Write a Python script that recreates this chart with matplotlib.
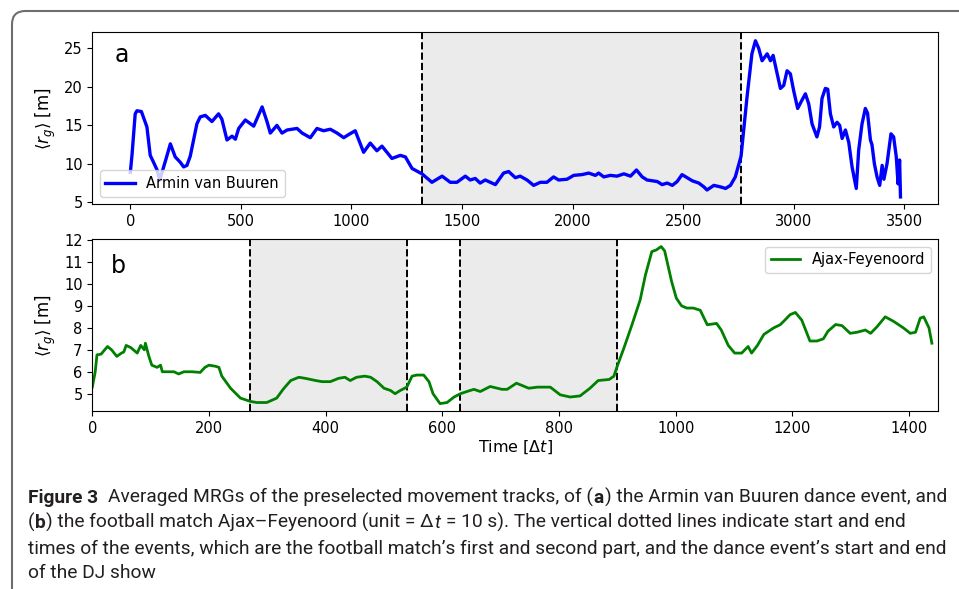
import matplotlib
matplotlib.use('Agg')
import matplotlib.pyplot as plt
from matplotlib import font_manager
from matplotlib.patches import FancyBboxPatch

plt.rcParams['font.family'] = 'DejaVu Sans'
plt.rcParams['mathtext.fontset'] = 'dejavusans'

# panel a: Armin van Buuren (time in units of dt, mean radius of gyration in m)
dance_t = [0, 8, 22, 30, 50, 75, 90, 105, 121, 133, 160, 181, 203, 226, 241, 256, 271, 301, 316, 339,
           369, 399, 414, 437, 460, 475, 490, 520, 558, 596, 618, 633, 663, 686, 709, 754, 777, 814, 844,
           874, 904, 935, 965, 987, 1017, 1055, 1085, 1115, 1138, 1183, 1221, 1244, 1274, 1319, 1364,
           1410, 1447, 1477, 1515, 1537, 1560, 1582, 1605, 1651, 1688, 1711, 1741, 1763, 1794, 1824,
           1854, 1884, 1914, 1937, 1975, 2005, 2043, 2073, 2103, 2118, 2141, 2171, 2201, 2232, 2262,
           2289, 2315, 2337, 2383, 2405, 2428, 2451, 2473, 2495, 2518, 2541, 2571, 2594, 2608, 2639,
           2669, 2692, 2714, 2736, 2762, 2789, 2811, 2827, 2842, 2857, 2880, 2895, 2907, 2917, 2940,
           2955, 2970, 2985, 3000, 3018, 3036, 3053, 3068, 3083, 3105, 3117, 3128, 3143, 3154, 3166,
           3181, 3196, 3208, 3219, 3234, 3249, 3264, 3283, 3294, 3309, 3324, 3334, 3347, 3354, 3365,
           3377, 3389, 3400, 3408, 3422, 3440, 3452, 3464, 3472, 3479, 3483]
dance_rg = [8.9, 11.3, 16.5, 16.9, 16.8, 14.8, 11.1, 10.2, 9.2, 7.9, 10.5, 12.6, 10.9, 10.2, 9.6, 9.8,
            11.0, 15.2, 16.1, 16.3, 15.5, 16.5, 15.8, 13.1, 13.6, 13.2, 14.6, 15.7, 14.9, 17.4, 15.5,
            14.0, 15.0, 14.0, 14.4, 14.6, 14.0, 13.4, 14.6, 14.3, 14.5, 14.0, 13.4, 13.8, 14.3, 11.5,
            12.7, 11.7, 12.3, 10.7, 11.1, 10.9, 9.4, 8.7, 7.6, 8.4, 7.6, 7.6, 8.4, 7.9, 8.1, 7.5, 7.9,
            7.3, 8.8, 9.0, 8.2, 8.4, 7.9, 7.2, 7.6, 7.6, 8.3, 7.9, 8.0, 8.5, 8.6, 8.8, 8.5, 8.8, 8.3,
            8.5, 8.4, 8.7, 8.4, 9.2, 8.3, 7.9, 7.7, 7.3, 7.5, 7.2, 7.7, 8.6, 8.2, 7.8, 7.5, 7.0, 6.6,
            7.2, 7.0, 6.8, 7.2, 8.3, 11.0, 18.7, 24.3, 26.0, 25.0, 23.4, 24.3, 23.4, 24.1, 22.8, 19.8,
            20.2, 22.1, 21.7, 19.5, 17.2, 18.2, 19.1, 17.8, 15.2, 13.5, 14.8, 18.5, 19.8, 19.7, 16.5,
            14.8, 15.4, 15.0, 13.3, 14.4, 12.8, 9.6, 6.8, 11.8, 15.2, 17.2, 16.6, 13.1, 12.5, 10.0,
            8.3, 7.2, 9.8, 8.0, 10.0, 13.9, 13.5, 10.9, 7.4, 10.5, 5.7]
dance_marks = [1320, 2760]

# panel b: Ajax-Feyenoord
match_t = [0, 5, 8, 15, 26, 33, 42, 50, 54, 58, 66, 77, 83, 89, 91, 97, 102, 111, 117, 120, 129, 140,
           148, 157, 171, 185, 193, 200, 211, 217, 222, 237, 254, 271, 282, 299, 316, 327, 340, 354,
           365, 383, 394, 408, 422, 433, 442, 453, 467, 477, 488, 500, 511, 519, 528, 539, 548, 556,
           568, 577, 584, 596, 608, 620, 631, 642, 654, 665, 682, 702, 711, 727, 748, 763, 785, 802,
           819, 836, 853, 867, 886, 894, 899, 911, 925, 939, 948, 959, 967, 975, 981, 993, 1001, 1010,
           1019, 1030, 1042, 1054, 1070, 1078, 1090, 1101, 1113, 1124, 1130, 1140, 1151, 1168, 1179,
           1187, 1196, 1205, 1216, 1230, 1242, 1253, 1261, 1274, 1285, 1299, 1311, 1325, 1334, 1345,
           1359, 1373, 1390, 1402, 1411, 1419, 1425, 1434, 1439]
match_rg = [5.3, 6.0, 6.77, 6.8, 7.15, 7.0, 6.7, 6.85, 6.9, 7.2, 7.1, 6.85, 7.2, 7.0, 7.3, 6.7, 6.3, 6.2,
            6.3, 6.0, 6.0, 6.0, 5.9, 6.0, 6.0, 5.97, 6.2, 6.3, 6.25, 6.2, 5.8, 5.25, 4.8, 4.65, 4.6,
            4.6, 4.8, 5.2, 5.6, 5.75, 5.7, 5.6, 5.55, 5.55, 5.7, 5.75, 5.6, 5.75, 5.8, 5.75, 5.55,
            5.25, 5.15, 5.0, 5.15, 5.3, 5.8, 5.85, 5.85, 5.55, 5.0, 4.55, 4.6, 4.85, 5.0, 5.1, 5.2,
            5.1, 5.33, 5.2, 5.2, 5.48, 5.25, 5.3, 5.3, 4.95, 4.85, 4.9, 5.25, 5.6, 5.65, 5.8, 6.2,
            7.07, 8.14, 9.27, 10.4, 11.47, 11.55, 11.7, 11.5, 10.1, 9.35, 9.0, 8.9, 8.9, 8.8, 8.14,
            8.2, 7.9, 7.2, 6.85, 6.85, 7.15, 6.85, 7.2, 7.7, 8.0, 8.14, 8.35, 8.6, 8.7, 8.35, 7.4, 7.4,
            7.5, 7.85, 8.15, 8.1, 7.75, 7.8, 7.9, 7.75, 8.05, 8.5, 8.3, 8.0, 7.75, 7.8, 8.44, 8.5,
            8.0, 7.3]
match_marks = [270, 540, 630, 900]

W, H = 959, 589
fig = plt.figure(figsize=(W / 100, H / 100), dpi=100)


def rect(l, t, r, b):
    return [l / W, 1 - b / H, (r - l) / W, (b - t) / H]


# rounded page frame
frame = FancyBboxPatch((12 / W, -0.1), 1.2, 1.1 - 11 / H, boxstyle='round,pad=0,rounding_size=0.014',
                       transform=fig.transFigure, fill=False, edgecolor='#6e6e6e', lw=1.5,
                       mutation_aspect=W / H)
fig.patches.append(frame)

ax1 = fig.add_axes(rect(92.3, 32.3, 938.3, 204.3))
ax2 = fig.add_axes(rect(92.3, 239.3, 938.3, 411.3))

ax1.axvspan(dance_marks[0], dance_marks[1], color='#ebebeb', zorder=0)
for m in dance_marks:
    ax1.axvline(m, color='k', ls='--', lw=1.4, zorder=1)
ax1.plot(dance_t, dance_rg, color='blue', lw=2.4, label='Armin van Buuren', zorder=2)
ax1.set_xlim(-172, 3654)
ax1.set_ylim(4.74, 27.1)
ax1.set_yticks([5, 10, 15, 20, 25])
ax1.set_xticks([0, 500, 1000, 1500, 2000, 2500, 3000, 3500])
ax1.text(0.026, 0.87, 'a', transform=ax1.transAxes, fontsize=17, va='center')
ax1.legend(loc='lower left', fontsize=10.5)

ax2.axvspan(match_marks[0], match_marks[1], color='#ebebeb', zorder=0)
ax2.axvspan(match_marks[2], match_marks[3], color='#ebebeb', zorder=0)
for m in match_marks:
    ax2.axvline(m, color='k', ls='--', lw=1.4, zorder=1)
ax2.plot(match_t, match_rg, color='green', lw=2.0, label='Ajax-Feyenoord', zorder=2)
ax2.set_xlim(0, 1450)
ax2.set_ylim(4.2, 12.03)
ax2.set_yticks(range(5, 13))
ax2.text(0.022, 0.845, 'b', transform=ax2.transAxes, fontsize=17, va='center')
ax2.legend(loc='upper right', fontsize=10.5)
ax2.set_xlabel(r'Time [$\Delta t$]', fontsize=11.5, labelpad=2)

for ax in (ax1, ax2):
    ax.tick_params(labelsize=10.5)
    ax.set_ylabel(r'$\langle r_g\rangle$ [m]', fontsize=12)
    ax.yaxis.set_label_coords(-0.041, 0.5)

# caption, drawn piece by piece so bold parts sit inline
names = {f.name for f in font_manager.fontManager.ttflist}
cap_font = 'Liberation Sans Narrow' if 'Liberation Sans Narrow' in names else 'Roboto'
cap_color = '#231f20'
renderer = fig.canvas.get_renderer()

caption = [
    [('Figure 3', 'bold', 'normal', 0),
     ('Averaged MRGs of the preselected movement tracks, of (', 'normal', 'normal', 2),
     ('a', 'bold', 'normal', 0), (') the Armin van Buuren dance event, and', 'normal', 'normal', 0)],
    [('(', 'normal', 'normal', 0), ('b', 'bold', 'normal', 0),
     (') the football match Ajax\u2013Feyenoord (unit = \u0394', 'normal', 'normal', 0),
     ('t', 'normal', 'italic', 0),
     ('= 10 s). The vertical dotted lines indicate start and end', 'normal', 'normal', 1)],
    [('times of the events, which are the football match\u2019s first and second part, '
      'and the dance event\u2019s start and end', 'normal', 'normal', 0)],
    [('of the DJ show', 'normal', 'normal', 0)],
]
baselines = [502.7, 528.2, 553.5, 578.5]


def space_width(size):
    a = fig.text(0, 0, 'n n', fontsize=size, family=cap_font)
    b = fig.text(0, 0, 'nn', fontsize=size, family=cap_font)
    w = a.get_window_extent(renderer).width - b.get_window_extent(renderer).width
    a.remove()
    b.remove()
    return w


def draw_line(parts, y, size):
    x = 28
    sw = space_width(size)
    items = []
    for txt, weight, style, gap in parts:
        x += gap * sw
        t = fig.text(x / W, 1 - y / H, txt, fontsize=size, family=cap_font, weight=weight,
                     style=style, color=cap_color, va='baseline', ha='left')
        items.append(t)
        x = t.get_window_extent(renderer).x1 + 0.6
    return items, x


test, end = draw_line(caption[0], baselines[0], 10)
for t in test:
    t.remove()
cap_size = 10 * (950 - 28) / (end - 28)
for parts, y in zip(caption, baselines):
    draw_line(parts, y, cap_size)

fig.savefig('out.png', dpi=100)
